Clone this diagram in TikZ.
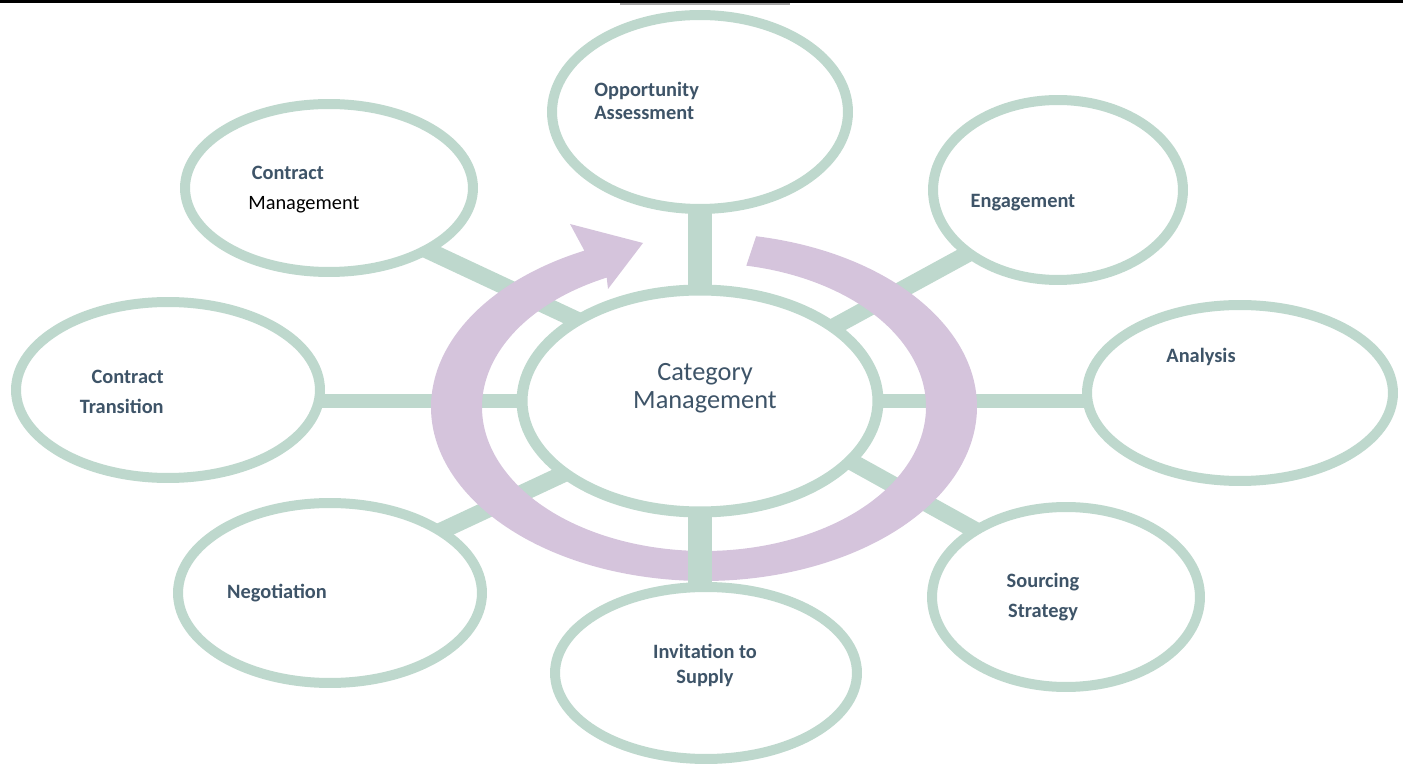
\documentclass[tikz,border=0pt]{standalone}
\usepackage{fontspec}
\setmainfont{Carlito}
\usetikzlibrary{shapes.geometric, calc}
\definecolor{bubblegreen}{HTML}{BED8CD}
\definecolor{cyclepurple}{HTML}{D5C4DC}
\definecolor{labelblue}{HTML}{3E5468}
\pgfdeclarelayer{bars}
\pgfdeclarelayer{cycle}
\pgfsetlayers{bars,cycle,main}

\begin{document}
\begin{tikzpicture}[x=0.02cm, y=-0.02cm,
    bubble/.style={ellipse, draw=bubblegreen, line width=0.2cm, fill=white, inner sep=0pt},
    link/.style={bubblegreen, line width=0.34cm, shorten <=-0.15cm, shorten >=-0.15cm},
    lbl/.style={text=labelblue, font=\bfseries\fontsize{11.6}{13}\selectfont, inner sep=0pt}]
    \useasboundingbox (0,0) rectangle (1403,783);
    \fill[black] (0,0) rectangle (1403,3.5);
    \fill[gray!70] (620,3.5) rectangle (790,5);

    % the hub and the eight stages round it
    \node[bubble, line width=0.22cm, minimum width=7.12cm, minimum height=4.44cm] (cat) at (700,401) {};
    \node[bubble, minimum width=5.92cm, minimum height=3.88cm] (opp) at (700,112) {};
    \node[bubble, minimum width=5.0cm, minimum height=3.6cm] (eng) at (1058,190) {};
    \node[bubble, minimum width=6.12cm, minimum height=3.52cm] (ana) at (1240,393) {};
    \node[bubble, minimum width=5.36cm, minimum height=3.6cm] (src) at (1066,597) {};
    \node[bubble, minimum width=6.04cm, minimum height=3.44cm] (inv) at (706,673) {};
    \node[bubble, minimum width=6.08cm, minimum height=3.6cm] (neg) at (330,593) {};
    \node[bubble, minimum width=6.08cm, minimum height=3.52cm] (ctr) at (168,390) {};
    \node[bubble, minimum width=5.76cm, minimum height=3.36cm] (cmg) at (329,188) {};

    \node[lbl, font=\fontsize{15}{16}\selectfont, align=center] (catt) at (705,388) {Category\\Management};
    \node[lbl, align=left, anchor=west] (oppt) at (594,101) {Opportunity\\Assessment};
    \node[lbl] (engt) at (1023,203) {Engagement};
    \node[lbl] (anat) at (1201,357) {Analysis};
    \node[lbl, align=center, font=\bfseries\fontsize{11.6}{17.5}\selectfont] (srct) at (1043,597) {Sourcing\\Strategy};
    \node[lbl, align=center, font=\bfseries\fontsize{11.6}{14.2}\selectfont] (invt) at (705,665) {Invitation to\\Supply};
    \node[lbl] (negt) at (277,593) {Negotiation};
    \node[lbl, align=right, anchor=east, font=\bfseries\fontsize{11.6}{17.5}\selectfont] (ctrt) at (164,392) {Contract\\Transition};
    \node[lbl, align=left, anchor=west, font=\fontsize{11.6}{17}\selectfont] (cmgt) at (248,190) {\hspace*{2pt}\textbf{Contract}\\\textcolor{black}{Management}};

    \begin{pgfonlayer}{bars}
        \draw[link] (cmg.-32) -- (cat.147);
        \draw[link] (eng.-145.5) -- (cat.29);
        \draw[link, line width=0.28cm] (cat.west) -- (cat.west -| ctr.east);
        \draw[link, line width=0.28cm] (cat.east) -- (cat.east -| ana.west);
        \draw[link] (neg.29) -- (cat.-152);
        \draw[link] (src.144) -- (cat.-22);
        \draw[link, line width=0.48cm] (cat.north) -- (cat.north |- opp.south);
    \end{pgfonlayer}

    \begin{pgfonlayer}{cycle}
        \coordinate (ringc) at (704,407);
        \fill[cyclepurple] ($(ringc)+(79:5.46cm and 3.48cm)$)
            arc[start angle=79, end angle=-244, x radius=5.46cm, y radius=3.48cm]
            -- (570,224) -- (643,243) -- (608,289)
            -- ($(ringc)+(-244:4.44cm and 2.88cm)$)
            arc[start angle=-244, end angle=79, x radius=4.44cm, y radius=2.88cm] -- cycle;
        \draw[link, line width=0.48cm] (cat.south) -- (cat.south |- inv.north);
    \end{pgfonlayer}
\end{tikzpicture}
\end{document}
